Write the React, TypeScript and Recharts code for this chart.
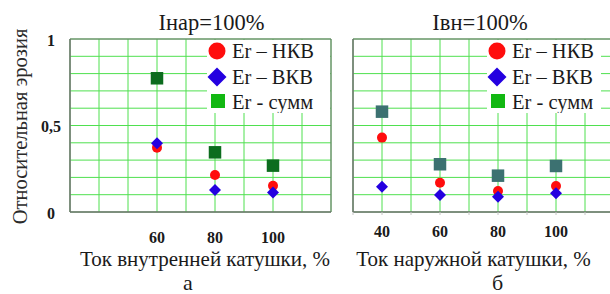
import React from 'react';
import { ScatterChart, Scatter, XAxis, YAxis, CartesianGrid, Legend, ReferenceArea } from 'recharts';

// ---- data ----
const innerCoilCurrent = [60, 80, 100];
const innerNkv = [0.372, 0.214, 0.152];
const innerVkv = [0.397, 0.127, 0.112];
const innerSum = [0.773, 0.345, 0.268];

const outerCoilCurrent = [40, 60, 80, 100];
const outerNkv = [0.43, 0.169, 0.121, 0.15];
const outerVkv = [0.146, 0.098, 0.088, 0.108];
const outerSum = [0.58, 0.276, 0.21, 0.266];

const xGridTicks = [30, 40, 50, 60, 70, 80, 90, 100, 110, 120];
const yGridTicks = [0, 0.1, 0.2, 0.3, 0.4, 0.5, 0.6, 0.7, 0.8, 0.9, 1];
const innerTickLabels = [60, 80, 100];
const outerTickLabels = [40, 60, 80, 100];
const yTickValues = [0, 0.5, 1];
const yTickTexts = ['0', '0,5', '1'];
const seriesNames = ['Er – НКВ', 'Er – ВКВ', 'Er - сумм'];
const panelTitles = ['Iнар=100%', 'Iвн=100%'];
const axisTitles = ['Ток внутренней катушки, %', 'Ток наружной катушки, %'];
const panelLetters = ['а', 'б'];
const yAxisTitle = 'Относительная эрозия';

// ---- styles ----
const FONT = '"Liberation Serif", "Times New Roman", serif';
const TEXT = '#1a1a1a';
const GRID = '#4fe04f';
const BORDER = '#707070';
const RED = '#ff0d0d';
const BLUE = '#2400e0';
const LEGEND_GREEN = '#12b812';
const INNER_SUM = '#0c6c1e';
const OUTER_SUM = '#3c7171';

const circleShape = (r: number, color: string) => (p: any) => (
  <circle cx={p.cx} cy={p.cy} r={r} fill={color} />
);
const diamondShape = (h: number, color: string) => (p: any) => (
  <path d={`M${p.cx},${p.cy - h}L${p.cx + h},${p.cy}L${p.cx},${p.cy + h}L${p.cx - h},${p.cy}Z`} fill={color} />
);
const squareShape = (s: number, color: string) => (p: any) => (
  <rect x={p.cx - s / 2} y={p.cy - s / 2} width={s} height={s} fill={color} />
);

const LEGEND_H = 73;

const LegendBox = ({ width }: { width: number }) => (
  <svg width={width} height={LEGEND_H} style={{ display: 'block', background: '#fff' }}>
    <circle cx={10} cy={11} r={8.5} fill={RED} />
    <path d="M10,27.5L19.5,37L10,46.5L0.5,37Z" fill={BLUE} />
    <rect x={4} y={54} width={14} height={14} fill={LEGEND_GREEN} />
    {seriesNames.map((n, i) => (
      <text key={n} x={25} y={18 + i * 25.5} fontFamily={FONT} fontSize={20.5} fill={TEXT}>
        {n}
      </text>
    ))}
  </svg>
);

interface PanelProps {
  left: number;
  chartWidth: number;
  yAxisWidth: number;
  marginRight: number;
  categories: number[];
  nkv: number[];
  vkv: number[];
  sum: number[];
  sumColor: string;
  sumSize: number;
  tickLabels: number[];
  tickDy: number;
  showYLabels: boolean;
  showTickMarks: boolean;
  legendLeft: number;
  legendWidth: number;
}

function Panel(props: PanelProps) {
  const toPoints = (vals: number[]) => props.categories.map((c, i) => ({ x: c, y: vals[i] }));
  const xTick = (p: any) =>
    props.tickLabels.includes(p.payload.value) ? (
      <text x={p.x} y={p.y + props.tickDy} textAnchor="middle" fontFamily={FONT} fontWeight="bold" fontSize={16} fill={TEXT}>
        {p.payload.value}
      </text>
    ) : (
      <g />
    );
  const yTick = (p: any) => {
    const idx = yTickValues.indexOf(p.payload.value);
    if (!props.showYLabels || idx < 0) return <g />;
    return (
      <text x={p.x - 11} y={p.y + 6.5} textAnchor="middle" fontFamily={FONT} fontWeight="bold" fontSize={16} fill={TEXT}>
        {yTickTexts[idx]}
      </text>
    );
  };
  return (
    <div style={{ position: 'absolute', left: props.left, top: 0 }}>
      <ScatterChart width={props.chartWidth} height={294} margin={{ top: 39, right: props.marginRight, bottom: 0, left: 0 }}>
        <CartesianGrid stroke={GRID} strokeWidth={1} />
        <XAxis
          type="number"
          dataKey="x"
          domain={[30, 120]}
          ticks={xGridTicks}
          interval={0}
          height={82}
          axisLine={{ stroke: BORDER }}
          tickLine={props.showTickMarks ? { stroke: '#c4c4c4' } : false}
          tickSize={3}
          tickMargin={5}
          tick={xTick}
        />
        <YAxis
          type="number"
          dataKey="y"
          domain={[0, 1]}
          ticks={yGridTicks}
          interval={0}
          width={props.yAxisWidth}
          axisLine={{ stroke: BORDER }}
          tickLine={false}
          tickSize={3}
          tickMargin={5}
          tick={yTick}
        />
        <ReferenceArea x1={30} x2={120} y1={0} y2={1} fill="none" fillOpacity={0} stroke={BORDER} strokeWidth={1} />
        <Legend
          layout="vertical"
          align="center"
          verticalAlign="middle"
          wrapperStyle={{ left: props.legendLeft, top: 40, width: props.legendWidth, height: LEGEND_H }}
          content={() => <LegendBox width={props.legendWidth} />}
        />
        <Scatter name={seriesNames[2]} data={toPoints(props.sum)} fill={props.sumColor} shape={squareShape(props.sumSize, props.sumColor)} isAnimationActive={false} />
        <Scatter name={seriesNames[0]} data={toPoints(props.nkv)} fill={RED} shape={circleShape(5, RED)} isAnimationActive={false} />
        <Scatter name={seriesNames[1]} data={toPoints(props.vkv)} fill={BLUE} shape={diamondShape(6, BLUE)} isAnimationActive={false} />
      </ScatterChart>
    </div>
  );
}

export default function App() {
  return (
    <div style={{ position: 'absolute', left: 0, top: 0, width: 610, height: 294, overflow: 'hidden', background: '#fff' }}>
      <Panel
        left={0}
        chartWidth={340}
        yAxisWidth={70}
        marginRight={9}
        categories={innerCoilCurrent}
        nkv={innerNkv}
        vkv={innerVkv}
        sum={innerSum}
        sumColor={INNER_SUM}
        sumSize={12.5}
        tickLabels={innerTickLabels}
        tickDy={22.7}
        showYLabels={true}
        showTickMarks={false}
        legendLeft={207}
        legendWidth={123}
      />
      <Panel
        left={340}
        chartWidth={280}
        yAxisWidth={13}
        marginRight={6}
        categories={outerCoilCurrent}
        nkv={outerNkv}
        vkv={outerVkv}
        sum={outerSum}
        sumColor={OUTER_SUM}
        sumSize={12.5}
        tickLabels={outerTickLabels}
        tickDy={16.7}
        showYLabels={false}
        showTickMarks={true}
        legendLeft={147}
        legendWidth={114}
      />
      <svg width={610} height={294} style={{ position: 'absolute', left: 0, top: 0, pointerEvents: 'none' }}>
        <g fontFamily={FONT} fill={TEXT}>
          <text x={211.5} y={30} textAnchor="middle" fontSize={22.5}>{panelTitles[0]}</text>
          <text x={480} y={30} textAnchor="middle" fontSize={22.5}>{panelTitles[1]}</text>
          <text transform="translate(27,126.5) rotate(-90)" textAnchor="middle" fontSize={20.5} fill="#2a2a2a">{yAxisTitle}</text>
          <text x={205} y={265.5} textAnchor="middle" fontSize={21}>{axisTitles[0]}</text>
          <text x={473.5} y={265.5} textAnchor="middle" fontSize={21}>{axisTitles[1]}</text>
          <text x={188} y={289.5} textAnchor="middle" fontSize={22}>{panelLetters[0]}</text>
          <text x={497.5} y={289.5} textAnchor="middle" fontSize={22}>{panelLetters[1]}</text>
        </g>
      </svg>
    </div>
  );
}
